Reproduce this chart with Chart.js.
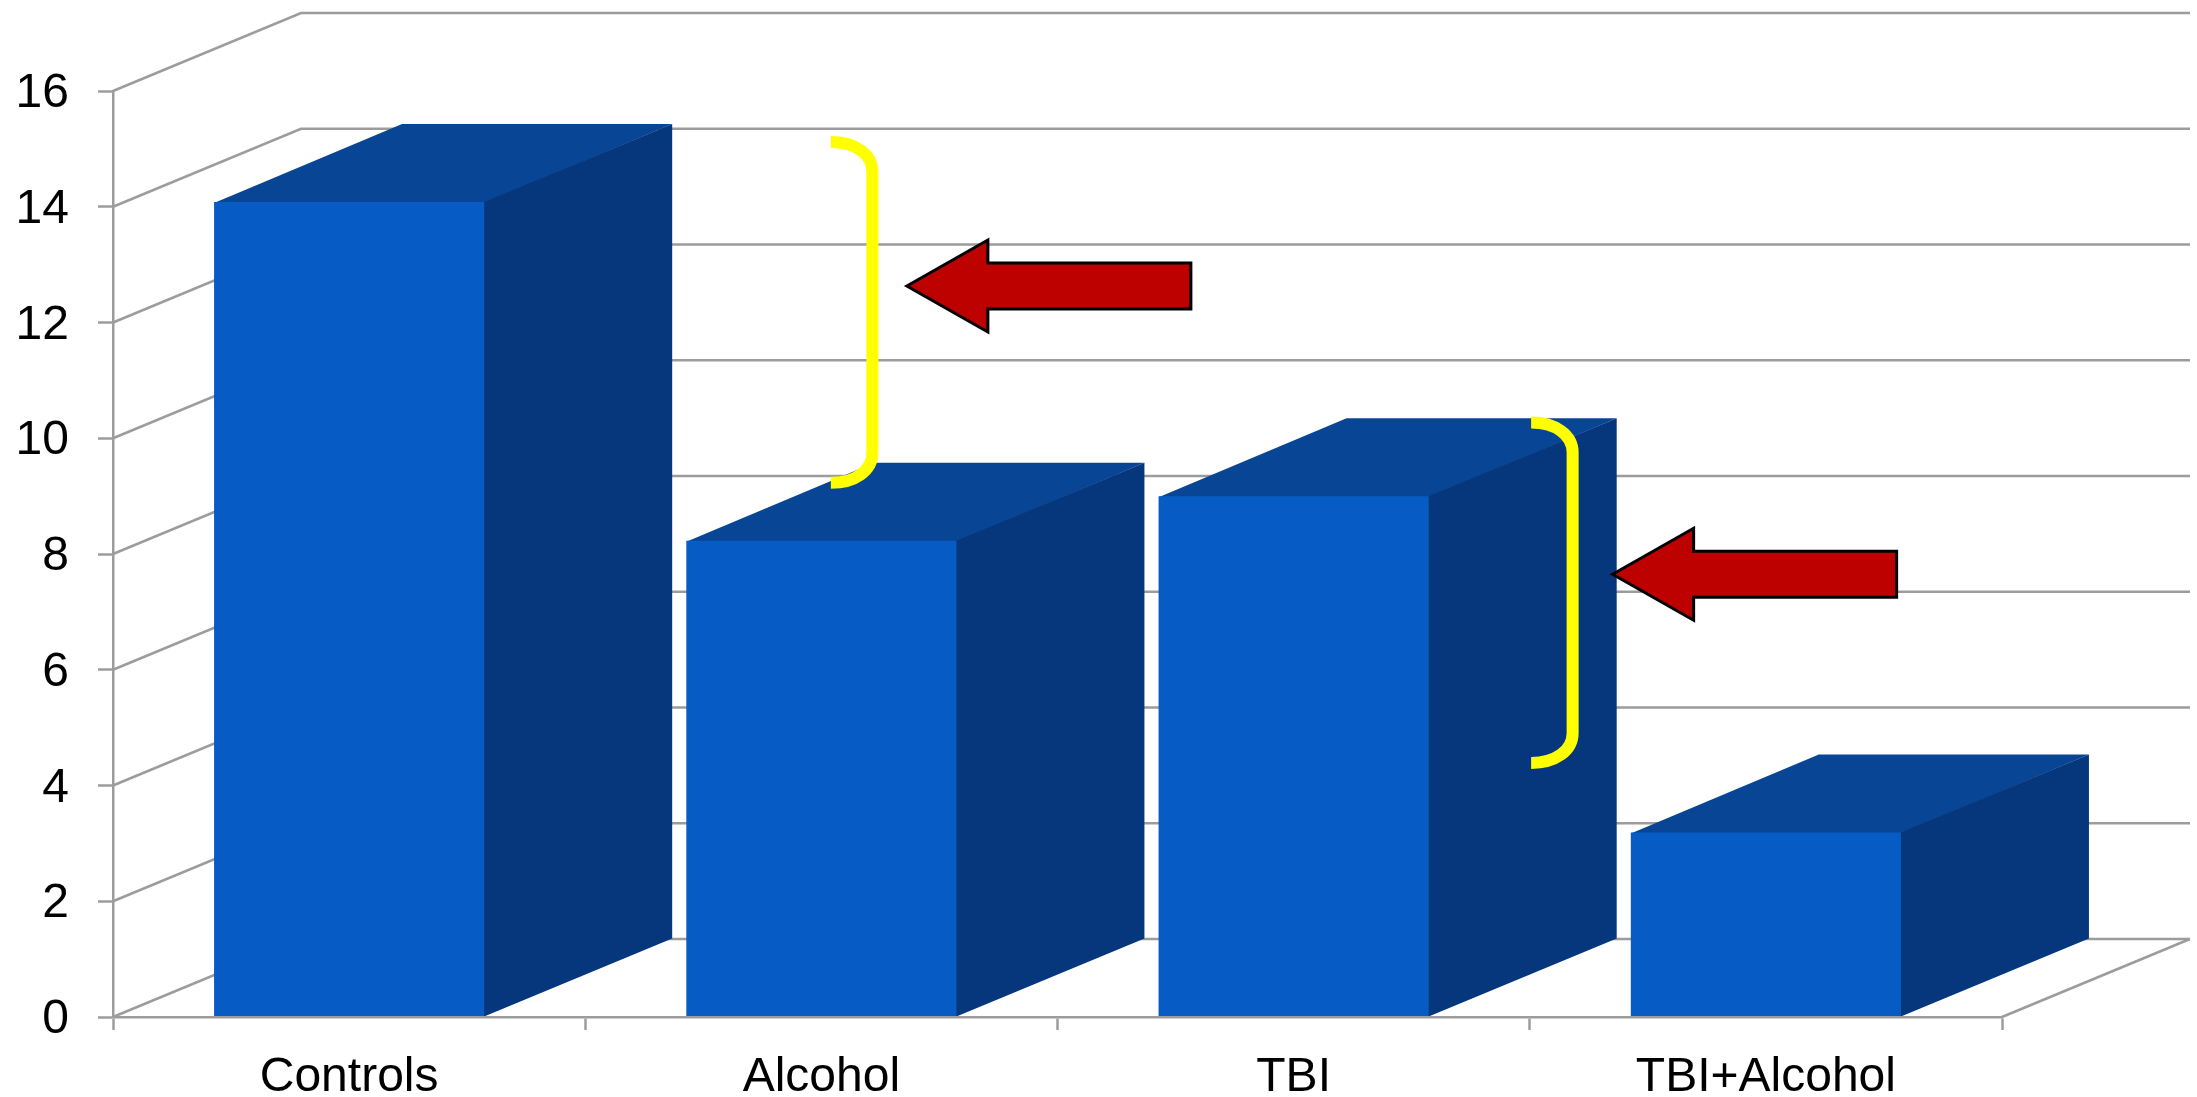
<!DOCTYPE html>
<html>
<head>
<meta charset="utf-8">
<style>html,body{margin:0;padding:0;background:#fff}canvas{display:block}</style>
<script src="https://cdn.jsdelivr.net/npm/chart.js@4"></script>
</head>
<body>
<canvas id="c" width="2197" height="1097"></canvas>
<script>
const categories = ["Controls", "Alcohol", "TBI", "TBI+Alcohol"];
const values = [14.08, 8.23, 9.0, 3.19];
const yTickLabels = ["0", "2", "4", "6", "8", "10", "12", "14", "16"];
// Annotation brackets, read in value-axis units, attached to a category
const bracketCategory = [1, 2];
const bracketTop = [15.12, 10.27];
const bracketBottom = [9.23, 4.39];
const arrowValue = [12.63, 7.65];

const DEPTH_X = 188, DEPTH_Y = 78;
const GRID = "#9c9c9c", FRONT = "#075bc5", TOP = "#084695", SIDE = "#06377d";

const walls = {
  id: "walls",
  beforeDatasetsDraw(chart) {
    const { ctx, chartArea: a, scales: { y } } = chart;
    ctx.save();
    ctx.strokeStyle = GRID; ctx.lineWidth = 2.5;
    y.ticks.forEach(t => {
      const p = y.getPixelForValue(t.value);
      ctx.beginPath();
      ctx.moveTo(a.left, p);
      ctx.lineTo(a.left + DEPTH_X, p - DEPTH_Y);
      ctx.lineTo(a.right + DEPTH_X, p - DEPTH_Y);
      ctx.stroke();
    });
    const p0 = y.getPixelForValue(0);
    ctx.beginPath();
    ctx.moveTo(a.right, p0);
    ctx.lineTo(a.right + DEPTH_X, p0 - DEPTH_Y);
    ctx.stroke();
    chart.getDatasetMeta(0).data.forEach(b => {
      const { x, y: top, base, width } = b.getProps(["x", "y", "base", "width"], true);
      const l = x - width / 2, r = x + width / 2;
      ctx.fillStyle = TOP;
      ctx.beginPath();
      ctx.moveTo(l, top + 1); ctx.lineTo(l + DEPTH_X, top - DEPTH_Y);
      ctx.lineTo(r + DEPTH_X, top - DEPTH_Y); ctx.lineTo(r, top + 1);
      ctx.closePath(); ctx.fill();
      ctx.fillStyle = SIDE;
      ctx.beginPath();
      ctx.moveTo(r - 1, top); ctx.lineTo(r, top); ctx.lineTo(r + DEPTH_X, top - DEPTH_Y);
      ctx.lineTo(r + DEPTH_X, base - DEPTH_Y); ctx.lineTo(r, base); ctx.lineTo(r - 1, base);
      ctx.closePath(); ctx.fill();
    });
    ctx.restore();
  }
};

const marks = {
  id: "marks",
  afterDatasetsDraw(chart) {
    const { ctx, scales: { x, y } } = chart;
    const BR_LEFT = [9.5, 237.5], BR_W = 41.5, ARROW_GAP = [34.5, 40];
    ctx.save();
    bracketCategory.forEach((cat, i) => {
      const cx = x.getPixelForValue(cat);
      const L = cx + BR_LEFT[i], R = L + BR_W;
      const t = y.getPixelForValue(bracketTop[i]), b = y.getPixelForValue(bracketBottom[i]);
      ctx.strokeStyle = "#ffff00"; ctx.lineWidth = 12; ctx.lineCap = "butt";
      ctx.beginPath();
      ctx.moveTo(L, t);
      ctx.bezierCurveTo(L + 24, t, R, t + 12, R, t + 30);
      ctx.lineTo(R, b - 30);
      ctx.bezierCurveTo(R, b - 12, L + 24, b, L, b);
      ctx.stroke();

      const tip = R + ARROW_GAP[i], m = y.getPixelForValue(arrowValue[i]);
      ctx.fillStyle = "#bd0000"; ctx.strokeStyle = "#000"; ctx.lineWidth = 3; ctx.lineJoin = "miter";
      ctx.beginPath();
      ctx.moveTo(tip, m);
      ctx.lineTo(tip + 81, m - 46);
      ctx.lineTo(tip + 81, m - 23);
      ctx.lineTo(tip + 284, m - 23);
      ctx.lineTo(tip + 284, m + 23);
      ctx.lineTo(tip + 81, m + 23);
      ctx.lineTo(tip + 81, m + 46);
      ctx.closePath();
      ctx.fill(); ctx.stroke();
    });
    ctx.restore();
  }
};

const tickFont = { family: "'Liberation Sans', Arial, sans-serif", size: 48 };
new Chart(document.getElementById("c"), {
  type: "bar",
  data: {
    labels: categories,
    datasets: [{ data: values, backgroundColor: FRONT, borderWidth: 0,
      categoryPercentage: 1, barPercentage: 0.572 }]
  },
  plugins: [walls, marks],
  options: {
    responsive: false,
    animation: false,
    devicePixelRatio: 1,
    layout: { padding: { left: 0, right: 195, top: 91, bottom: 0 } },
    plugins: { legend: { display: false }, tooltip: { enabled: false } },
    scales: {
      x: {
        afterFit: s => { s.height = 80; },
        border: { color: GRID, width: 2.5, z: 1 },
        grid: { offset: true, drawOnChartArea: false, drawTicks: true, tickLength: 13, tickWidth: 2.5, tickColor: GRID },
        ticks: { font: tickFont, color: "#000", padding: 19, maxRotation: 0 }
      },
      y: {
        min: 0, max: 16,
        afterFit: s => { s.width = 113; },
        border: { color: GRID, width: 2.5, z: 1 },
        grid: { drawOnChartArea: false, drawTicks: true, tickLength: 15, tickWidth: 2.5, tickColor: GRID },
        ticks: { stepSize: 2, font: tickFont, color: "#000", padding: 29, labelOffset: 3,
          callback: (v) => yTickLabels[yTickLabels.indexOf(String(v))] }
      }
    }
  }
});
</script>
</body>
</html>
